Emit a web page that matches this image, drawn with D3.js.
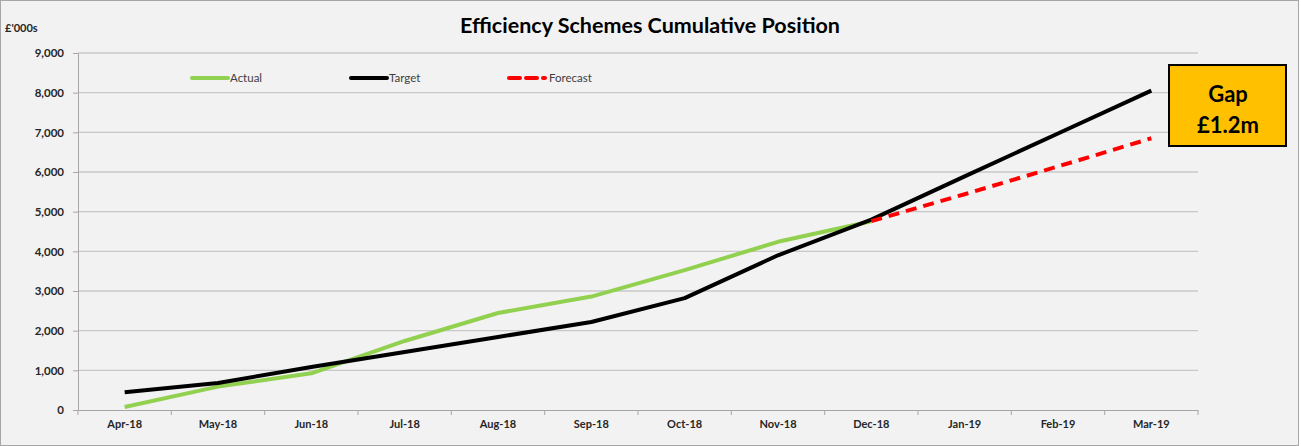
<!DOCTYPE html>
<html lang="en">
  <head>
    <meta charset="UTF-8" />
    <title>Efficiency Schemes Cumulative Position</title>
    <script src="https://d3js.org/d3.v7.min.js"></script>
    <style>
      body { margin: 0; background: #fff; }
      svg text { font-family: Lato, "Open Sans", sans-serif; }
    </style>
  </head>
  <body>
    <div id="chart"></div>
  </body>
</html>

<script>
  const months = ["Apr-18", "May-18", "Jun-18", "Jul-18", "Aug-18", "Sep-18",
    "Oct-18", "Nov-18", "Dec-18", "Jan-19", "Feb-19", "Mar-19"]
  const actual = [75, 590, 925, 1740, 2445, 2860, 3525, 4240, 4760]
  const target = [445, 680, 1085, 1460, 1840, 2220, 2820, 3900, 4800, 5890, 6970, 8050]
  const forecast = [null, null, null, null, null, null, null, null, 4760, 5440, 6140, 6850]
  const yTicks = [0, 1000, 2000, 3000, 4000, 5000, 6000, 7000, 8000, 9000]

  const W = 1301, H = 446
  const svg = d3.select("#chart").append("svg").attr("width", W).attr("height", H)

  svg.append("rect").attr("x", 0.5).attr("y", 0.5).attr("width", W - 3).attr("height", H - 1)
    .attr("fill", "#f2f2f2").attr("stroke", "#a6a6a6")

  const x = d3.scaleBand().domain(months).range([78, 1198])
  const y = d3.scaleLinear().domain([0, 9000]).range([410, 53])
  const cx = d => x(d) + x.bandwidth() / 2

  // gridlines
  svg.append("g").selectAll("line").data(yTicks.slice(1)).enter().append("line")
    .attr("x1", 78).attr("x2", 1198).attr("y1", d => y(d)).attr("y2", d => y(d))
    .attr("stroke", "#c8c8c8").attr("stroke-width", 1.3)

  // y axis
  const yAxis = svg.append("g").attr("transform", "translate(78,0)")
    .call(d3.axisLeft(y).tickValues(yTicks).tickSize(5).tickPadding(9).tickFormat(d3.format(",")))
  yAxis.select(".domain").attr("stroke", "#a6a6a6")
  yAxis.selectAll(".tick line").attr("stroke", "#a6a6a6")
  yAxis.selectAll("text").attr("font-size", 11.5).attr("font-weight", "bold").attr("fill", "#262626")

  // x axis
  const xAxis = svg.append("g").attr("transform", "translate(0,410)")
    .call(d3.axisBottom(x).tickSize(0).tickPadding(10))
  xAxis.select(".domain").attr("stroke", "#a6a6a6")
  xAxis.selectAll("text").attr("font-size", 11).attr("font-weight", "bold").attr("fill", "#262626")
  xAxis.selectAll(".bnd").data(d3.range(months.length + 1)).enter().append("line")
    .attr("x1", i => 78 + i * x.step()).attr("x2", i => 78 + i * x.step())
    .attr("y1", 0).attr("y2", 5).attr("stroke", "#a6a6a6")

  const line = d3.line().defined(d => d.v != null).x(d => cx(d.m)).y(d => y(d.v))
  const series = (arr) => arr.map((v, i) => ({ m: months[i], v }))

  svg.append("path").datum(series(actual)).attr("d", line)
    .attr("fill", "none").attr("stroke", "#92d050").attr("stroke-width", 4).attr("stroke-linejoin", "round")
  svg.append("path").datum(series(target)).attr("d", line)
    .attr("fill", "none").attr("stroke", "#000").attr("stroke-width", 4).attr("stroke-linejoin", "round")
  svg.append("path").datum(series(forecast)).attr("d", line)
    .attr("fill", "none").attr("stroke", "#ff0000").attr("stroke-width", 4).attr("stroke-dasharray", "11,7")

  // title
  svg.append("text").attr("x", 650).attr("y", 33).attr("text-anchor", "middle")
    .attr("font-size", 21.5).attr("font-weight", "bold").attr("fill", "#000")
    .text("Efficiency Schemes Cumulative Position")
  svg.append("text").attr("x", 5).attr("y", 32).attr("font-size", 11).attr("font-weight", "bold")
    .attr("fill", "#262626").text("£'000s")

  // legend
  const legend = [
    { name: "Actual", color: "#92d050", dash: null, x: 192 },
    { name: "Target", color: "#000", dash: null, x: 351 },
    { name: "Forecast", color: "#ff0000", dash: "11,6", x: 509 }
  ]
  const lg = svg.append("g").selectAll("g").data(legend).enter().append("g")
  lg.append("line").attr("x1", d => d.x).attr("x2", d => d.x + 36).attr("y1", 78).attr("y2", 78)
    .attr("stroke", d => d.color).attr("stroke-width", 4).attr("stroke-linecap", "round")
    .attr("stroke-dasharray", d => d.dash)
  lg.append("text").attr("x", d => d.x + (d.dash ? 40 : 38)).attr("y", 82)
    .attr("font-size", 11.5).attr("fill", "#404040").text(d => d.name)

  // gap callout
  svg.append("rect").attr("x", 1169).attr("y", 65).attr("width", 117).attr("height", 81)
    .attr("fill", "#ffc000").attr("stroke", "#000").attr("stroke-width", 2)
  svg.append("text").attr("x", 1228).attr("y", 102).attr("text-anchor", "middle")
    .attr("font-size", 22).attr("font-weight", "bold").text("Gap")
  svg.append("text").attr("x", 1228).attr("y", 133).attr("text-anchor", "middle")
    .attr("font-size", 22).attr("font-weight", "bold").text("£1.2m")
</script>
